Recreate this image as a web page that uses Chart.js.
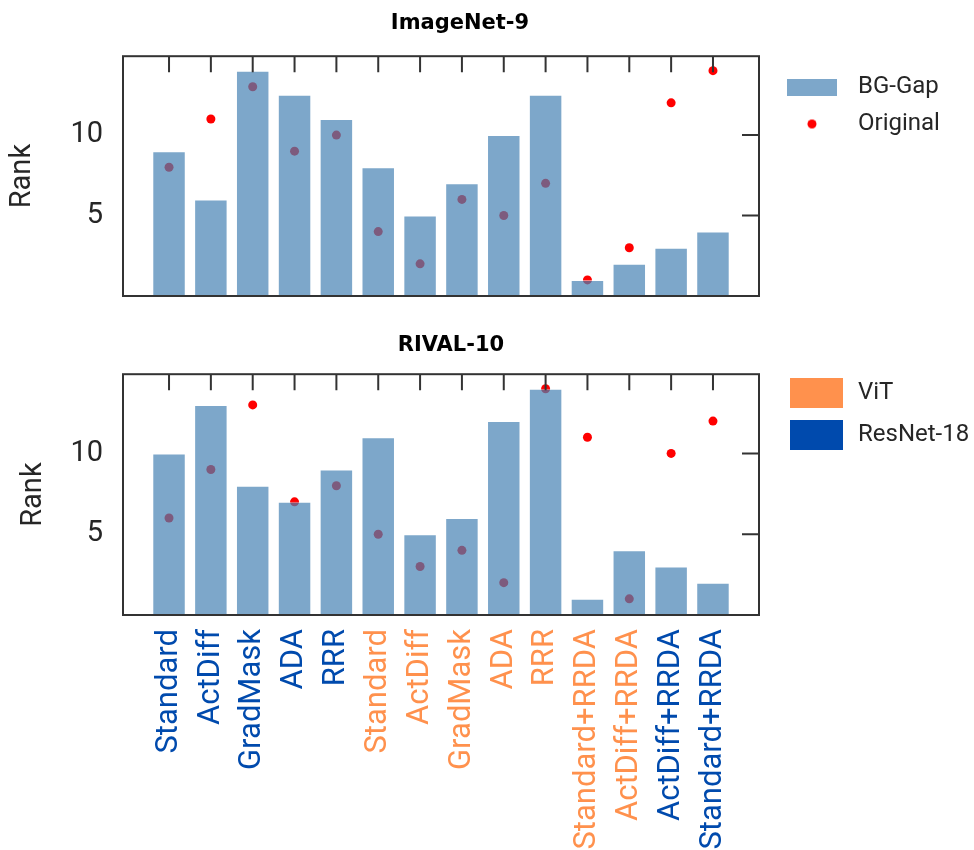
<!DOCTYPE html>
<html>
<head>
<meta charset="utf-8">
<script src="https://cdn.jsdelivr.net/npm/chart.js@4.4.0/dist/chart.umd.min.js"></script>
<style>
  body { margin: 0; background: #fff; }
  #wrap { position: relative; width: 974px; height: 850px; }
  .panel { position: absolute; left: 0; width: 974px; }
</style>
</head>
<body>
<div id="wrap">
  <div class="panel" style="top:0;height:320px"><canvas id="inet_chart"></canvas></div>
  <div class="panel" style="top:320px;height:530px"><canvas id="rival_chart"></canvas></div>
</div>
<script>
// categories along x, same order in both panels
const methods = ['Standard', 'ActDiff', 'GradMask', 'ADA', 'RRR',
                 'Standard', 'ActDiff', 'GradMask', 'ADA', 'RRR',
                 'Standard+RRDA', 'ActDiff+RRDA', 'ActDiff+RRDA', 'Standard+RRDA'];
const backbone = ['ResNet-18', 'ResNet-18', 'ResNet-18', 'ResNet-18', 'ResNet-18',
                  'ViT', 'ViT', 'ViT', 'ViT', 'ViT',
                  'ViT', 'ViT', 'ResNet-18', 'ResNet-18'];

// ImageNet-9 ranks
const inetGap  = [9, 6, 14, 12.5, 11, 8, 5, 7, 10, 12.5, 1, 2, 3, 4];
const inetOrig = [8, 11, 13, 9, 10, 4, 2, 6, 5, 7, 1, 3, 12, 14];

// RIVAL-10 ranks
const rivalGap  = [10, 13, 8, 7, 9, 11, 5, 6, 12, 14, 1, 4, 3, 2];
const rivalOrig = [6, 9, 13, 7, 8, 5, 3, 4, 2, 14, 11, 1, 10, 12];

const yTickLabels = [5, 10];
const yTickMarks = [0, 5, 10];

const backboneColor = { 'ViT': '#FF914D', 'ResNet-18': '#004AAD' };
const gapColor = 'rgba(70,130,180,0.7)';
const origColor = '#ff0000';
const ink = '#333333';
const textInk = '#262626';

const W = 974;
const plotLeft = 123;
const plotRight = 759;
const legendFont = 24;

Chart.defaults.font.family = 'Roboto';
Chart.defaults.animation = false;

// little images used as legend markers
function patchImage(w, h, boxW, offset, color) {
    const c = document.createElement('canvas');
    c.width = boxW; c.height = h;
    const g = c.getContext('2d');
    g.fillStyle = color;
    g.fillRect(offset, 0, w, h);
    return c;
}
function dotImage(r, boxW, offset, color) {
    const c = document.createElement('canvas');
    c.width = boxW; c.height = Math.ceil(r * 2) + 2;
    const g = c.getContext('2d');
    g.fillStyle = color;
    g.beginPath();
    g.arc(offset, c.height / 2, r, 0, Math.PI * 2);
    g.fill();
    return c;
}

// width the legend box will take (one column, chart.js adds 10)
function legendSpan(texts, box, pad) {
    const g = document.createElement('canvas').getContext('2d');
    g.font = legendFont + 'px Roboto';
    return pad + box + legendFont / 2 + Math.max(...texts.map(t => g.measureText(t).width)) + 10;
}

// frame plus inward ticks on top and right, like the original axes
const framePlugin = {
    id: 'frame',
    afterDatasetsDraw(chart) {
        const { ctx, chartArea: a, scales } = chart;
        ctx.save();
        ctx.strokeStyle = ink;
        ctx.lineWidth = 2;
        ctx.beginPath();
        methods.forEach((m, i) => {
            const px = scales.x.getPixelForValue(i);
            ctx.moveTo(px, a.top);
            ctx.lineTo(px, a.top + 16);
        });
        yTickMarks.forEach(v => {
            const py = scales.y.getPixelForValue(v);
            ctx.moveTo(a.right, py);
            ctx.lineTo(a.right - 17, py);
        });
        ctx.stroke();
        ctx.strokeRect(a.left, a.top, a.right - a.left, a.bottom - a.top);
        ctx.restore();
    }
};

function makeChart(id, title, gap, orig, cfg) {
    // place plot edges and title centre where the original has them
    const span = legendSpan(cfg.legendTexts, cfg.legendBox, cfg.legendPad);
    const padRight = W - plotRight - span;
    const padLeft = padRight - (W - 2 * cfg.titleCenter);

    return new Chart(document.getElementById(id), {
        type: 'bar',
        data: {
            datasets: [{
                type: 'bar',
                label: 'BG-Gap',
                data: gap.map((v, i) => ({ x: i, y: v })),
                backgroundColor: gapColor,
                borderColor: 'rgba(255,255,255,0.5)',
                borderWidth: 1,
                barPercentage: 0.8,
                categoryPercentage: 1.0,
                order: 0
            }, {
                type: 'scatter',
                label: 'Original',
                data: orig.map((v, i) => ({ x: i, y: v })),
                backgroundColor: origColor,
                borderWidth: 0,
                pointRadius: 4.5,
                order: 1
            }]
        },
        options: {
            maintainAspectRatio: false,
            responsive: true,
            layout: { padding: { left: padLeft, right: padRight, top: 0, bottom: 0 } },
            plugins: {
                tooltip: { enabled: false },
                title: {
                    display: true,
                    text: title,
                    color: '#000',
                    font: { family: 'DejaVu Sans', size: 21, weight: 'bold', lineHeight: 1.2 },
                    padding: cfg.titlePad
                },
                legend: {
                    position: 'right',
                    align: 'start',
                    title: { display: true, text: '', font: { size: 10, lineHeight: 1 }, padding: { top: cfg.legendTop, bottom: 0 } },
                    labels: {
                        usePointStyle: true,
                        pointStyleWidth: cfg.legendBox,
                        padding: cfg.legendPad,
                        color: textInk,
                        font: { size: legendFont },
                        generateLabels: cfg.legendItems
                    }
                }
            },
            scales: {
                x: {
                    type: 'linear',
                    offset: false,
                    min: -1.1,
                    max: 14.1,
                    afterBuildTicks: s => { s.ticks = methods.map((m, i) => ({ value: i })); },
                    afterFit: s => { s.height = cfg.xHeight; s.paddingLeft = 0; s.paddingRight = 0; },
                    grid: { display: false, drawTicks: false, offset: false },
                    border: { display: false },
                    ticks: {
                        display: cfg.showLabels,
                        autoSkip: false,
                        minRotation: 90,
                        maxRotation: 90,
                        padding: 14,
                        font: { size: 31 },
                        color: c => backboneColor[backbone[c.index]],
                        callback: (v, i) => methods[i]
                    }
                },
                y: {
                    min: 0,
                    max: 14.9,
                    afterBuildTicks: s => { s.ticks = yTickLabels.map(v => ({ value: v })); },
                    afterFit: s => { s.width = plotLeft - padLeft; s.paddingTop = 0; s.paddingBottom = 0; },
                    grid: { display: false, drawTicks: false },
                    border: { display: false },
                    ticks: { padding: 20, color: textInk, font: { size: 29 } },
                    title: {
                        display: true,
                        text: 'Rank',
                        color: textInk,
                        font: { size: 29, lineHeight: 1.2 },
                        padding: { top: cfg.rankCenter - 17.4 - padLeft, bottom: 0 }
                    }
                }
            }
        },
        plugins: [framePlugin]
    });
}

function prepareCharts() {
    makeChart('inet_chart', 'ImageNet-9', inetGap, inetOrig, {
        titleCenter: 460, legendTexts: ['BG-Gap', 'Original'],
        legendBox: 74, legendPad: 13, legendTop: 52,
        titlePad: { top: 11, bottom: 20 }, xHeight: 24, showLabels: false, rankCenter: 23,
        legendItems: () => [
            { text: 'BG-Gap', fontColor: textInk, pointStyle: patchImage(50, 17, 74, 15, gapColor), fillStyle: gapColor, strokeStyle: 'rgba(0,0,0,0)', lineWidth: 0, hidden: false, datasetIndex: 0 },
            { text: 'Original', fontColor: textInk, pointStyle: dotImage(4.5, 74, 40, origColor), fillStyle: origColor, strokeStyle: 'rgba(0,0,0,0)', lineWidth: 0, hidden: false, datasetIndex: 1 }
        ]
    });
    makeChart('rival_chart', 'RIVAL-10', rivalGap, rivalOrig, {
        titleCenter: 451, legendTexts: ['ViT', 'ResNet-18'],
        legendBox: 69, legendPad: 18, legendTop: 33,
        titlePad: { top: 13, bottom: 16 }, xHeight: 235, showLabels: true, rankCenter: 34,
        legendItems: () => ['ViT', 'ResNet-18'].map((b, k) => ({
            text: b, fontColor: textInk, pointStyle: patchImage(53, 30, 69, 13, backboneColor[b]), fillStyle: backboneColor[b],
            strokeStyle: 'rgba(0,0,0,0)', lineWidth: 0, hidden: false, index: k
        }))
    });
}

window.addEventListener('load', prepareCharts);
</script>
</body>
</html>
